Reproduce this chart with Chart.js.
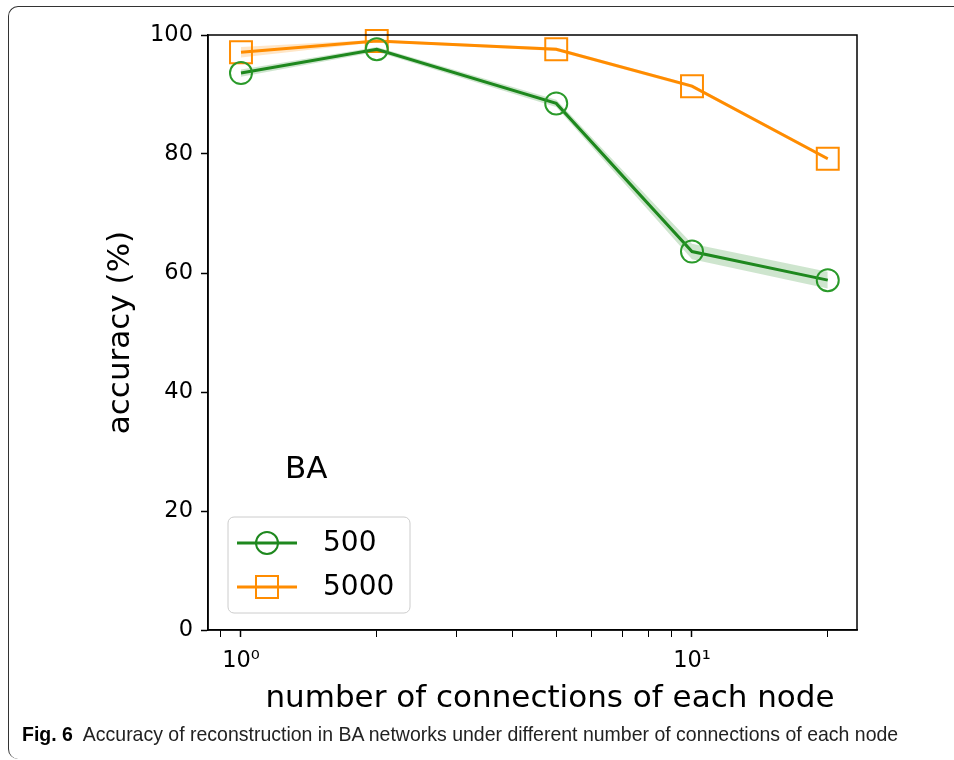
<!DOCTYPE html>
<html>
<head>
<meta charset="utf-8">
<script src="https://cdn.jsdelivr.net/npm/chart.js@4/dist/chart.umd.min.js"></script>
<style>
  html, body { margin: 0; padding: 0; background: #fff; }
  body { width: 954px; height: 760px; position: relative; overflow: hidden; }
  #frame {
    position: absolute; left: 8px; top: 6px; width: 980px; height: 752px;
    border-top: 1.5px solid #333; border-left: 1.5px solid #333;
    border-top-left-radius: 10px; border-bottom-left-radius: 10px;
  }
  #wrap { position: absolute; left: 0; top: 0; width: 954px; height: 760px; }
  #caption {
    position: absolute; left: 22px; top: 722px; white-space: nowrap;
    font-family: "Liberation Sans", sans-serif;
    font-size: 21px; color: #222;
    transform: scaleX(0.928); transform-origin: 0 0;
  }
  #caption b { font-weight: bold; color: #000; margin-right: 6px; }
</style>
</head>
<body>
<div id="frame"></div>
<div id="wrap"><canvas id="chart" width="954" height="760"></canvas></div>
<div id="caption"><b>Fig. 6</b> Accuracy of reconstruction in BA networks under different number of connections of each node</div>
<script>
// connections per node (x, log scale)
const connections = [1, 2, 5, 10, 20];

// accuracy (%) for 500 samples
const acc500 = [93.6, 97.6, 88.5, 63.6, 58.8];
const acc500Low = [93.0, 97.2, 87.9, 62.3, 57.4];
const acc500High = [94.2, 98.0, 89.1, 64.9, 60.2];

// accuracy (%) for 5000 samples
const acc5000 = [97.1, 99.0, 97.6, 91.4, 79.2];
const acc5000Low = [96.2, 98.8, 97.3, 91.1, 78.9];
const acc5000High = [98.0, 99.2, 97.9, 91.7, 79.5];

const seriesNames = ['500', '5000'];
const xTicks = [0.9, 1, 2, 3, 4, 5, 6, 7, 8, 9, 10, 20];
const xTickLabels = { 1: '10\u2070', 10: '10\u00b9' };
const yTicks = [0, 20, 40, 60, 80, 100];
const xTitle = 'number of connections of each node';
const yTitle = 'accuracy (%)';

const GREEN = '#1e881e';
const ORANGE = '#ff8c00';
const FONT = "'DejaVu Sans', sans-serif";

const toXY = arr => arr.map((v, i) => ({ x: connections[i], y: v }));

// frame around the plot, x title, inside legend and "BA" label
const decorations = {
  id: 'decorations',
  afterDraw(chart) {
    const { ctx, chartArea: a } = chart;
    ctx.save();
    ctx.strokeStyle = '#000';
    ctx.lineWidth = 1.5;
    ctx.strokeRect(a.left, a.top, a.right - a.left, a.bottom - a.top);

    ctx.fillStyle = '#000';
    ctx.textBaseline = 'middle';
    ctx.textAlign = 'center';
    ctx.font = '31px ' + FONT;
    ctx.fillText(xTitle, a.left + 342, a.bottom + 69);

    ctx.textAlign = 'left';
    ctx.fillText('BA', a.left + 77, a.bottom - 160);

    // legend box
    const bx = a.left + 20, by = a.bottom - 113, bw = 182, bh = 96;
    ctx.beginPath();
    ctx.roundRect(bx, by, bw, bh, 6);
    ctx.fillStyle = 'rgba(255,255,255,0.8)';
    ctx.fill();
    ctx.strokeStyle = '#cccccc';
    ctx.lineWidth = 1;
    ctx.stroke();

    const items = [
      { name: seriesNames[0], color: GREEN, shape: 'circle' },
      { name: seriesNames[1], color: ORANGE, shape: 'rect' }
    ];
    items.forEach((it, i) => {
      const y = by + 26 + i * 44;
      ctx.strokeStyle = it.color;
      ctx.lineWidth = 3;
      ctx.beginPath();
      ctx.moveTo(bx + 9, y);
      ctx.lineTo(bx + 69, y);
      ctx.stroke();
      ctx.lineWidth = 2;
      ctx.beginPath();
      if (it.shape === 'circle') ctx.arc(bx + 39, y, 11, 0, Math.PI * 2);
      else ctx.rect(bx + 28, y - 11, 22, 22);
      ctx.stroke();
      ctx.fillStyle = '#000';
      ctx.font = '28px ' + FONT;
      ctx.fillText(it.name, bx + 95, y + 1);
    });
    ctx.restore();
  }
};

new Chart(document.getElementById('chart'), {
  type: 'line',
  data: {
    datasets: [
      { data: toXY(acc500High), borderWidth: 0, pointRadius: 0, fill: false },
      { data: toXY(acc500Low), borderWidth: 0, pointRadius: 0, fill: '-1', backgroundColor: 'rgba(30,136,30,0.22)' },
      { data: toXY(acc5000High), borderWidth: 0, pointRadius: 0, fill: false },
      { data: toXY(acc5000Low), borderWidth: 0, pointRadius: 0, fill: '-1', backgroundColor: 'rgba(255,140,0,0.22)' },
      {
        label: seriesNames[0], data: toXY(acc500),
        borderColor: GREEN, borderWidth: 3,
        pointStyle: 'circle', pointRadius: 11, pointBorderWidth: 2,
        pointBorderColor: '#2a9a2a', pointBackgroundColor: 'rgba(0,0,0,0)'
      },
      {
        label: seriesNames[1], data: toXY(acc5000),
        borderColor: ORANGE, borderWidth: 3,
        pointStyle: 'rect', pointRadius: 15.5, pointBorderWidth: 2,
        pointBorderColor: ORANGE, pointBackgroundColor: 'rgba(0,0,0,0)'
      }
    ]
  },
  options: {
    responsive: false,
    animation: false,
    clip: false,
    layout: { padding: { top: 35, right: 97, left: 0, bottom: 0 } },
    elements: { line: { tension: 0 } },
    scales: {
      x: {
        type: 'logarithmic',
        min: 0.845,
        max: 23.22,
        afterBuildTicks: s => { s.ticks = xTicks.map(v => ({ value: v })); },
        afterFit: s => { s.height = 130; },
        border: { display: true, color: '#000', width: 1.5 },
        grid: {
          drawOnChartArea: false, tickLength: 7, tickColor: '#000',
          tickWidth: c => (xTickLabels[c.tick && c.tick.value] ? 1.5 : 1)
        },
        ticks: {
          autoSkip: false, maxRotation: 0, padding: 11, color: '#000',
          font: { family: FONT, size: 22.5 },
          callback: v => xTickLabels[v] || ''
        }
      },
      y: {
        min: 0,
        max: 100,
        afterBuildTicks: s => { s.ticks = yTicks.map(v => ({ value: v })); },
        afterFit: s => { s.width = 208; },
        border: { display: true, color: '#000', width: 1.5 },
        grid: { drawOnChartArea: false, tickLength: 7, tickColor: '#000', tickWidth: 1.5 },
        ticks: { padding: 8, color: '#000', font: { family: FONT, size: 22.5 } },
        title: {
          display: true, text: yTitle,
          color: '#000', font: { family: FONT, size: 31 },
          padding: { top: 102, bottom: 0 }
        }
      }
    },
    plugins: {
      legend: { display: false },
      tooltip: { enabled: false }
    }
  },
  plugins: [decorations]
});
</script>
</body>
</html>
